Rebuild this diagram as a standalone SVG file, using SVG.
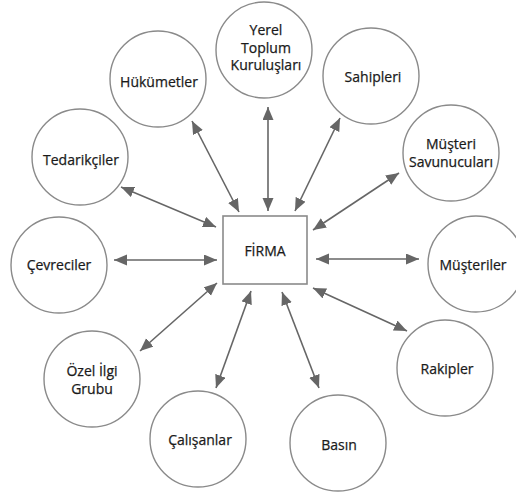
<svg xmlns="http://www.w3.org/2000/svg" width="516" height="494" viewBox="0 0 516 494">
<style>
.node circle{fill:#fff;stroke:#8a8a8a;stroke-width:1.4}
.node rect{fill:#fff;stroke:#8a8a8a;stroke-width:1.6}
text{font-family:"Open Sans","Noto Sans","DejaVu Sans",sans-serif;font-size:14px;fill:#1a1a1a;stroke:#1a1a1a;stroke-width:0.25;text-anchor:middle}
#connectors line{stroke:#666;stroke-width:1.6;marker-start:url(#ah);marker-end:url(#ah)}
</style>
<defs>
<marker id="ah" markerUnits="userSpaceOnUse" markerWidth="14" markerHeight="12" refX="13" refY="5.5" orient="auto-start-reverse">
<path d="M0,0 L13,5.5 L0,11 z" fill="#666"/>
</marker>
</defs>
<rect width="516" height="494" fill="#fff"/>
<g id="connectors">
<line x1="192" y1="121" x2="239" y2="212"/>
<line x1="268" y1="107" x2="268" y2="211"/>
<line x1="340" y1="118" x2="295" y2="211"/>
<line x1="399" y1="173" x2="313" y2="230"/>
<line x1="121" y1="187" x2="216" y2="227"/>
<line x1="114" y1="260" x2="217" y2="260"/>
<line x1="316" y1="259" x2="419" y2="259"/>
<line x1="140" y1="351" x2="217" y2="283"/>
<line x1="216" y1="388" x2="251" y2="291"/>
<line x1="282" y1="292" x2="319" y2="388"/>
<line x1="313" y1="288" x2="407" y2="331"/>
</g>
<g id="firma" class="node"><rect x="223" y="216" width="84" height="68"/><text x="265" y="256">FİRMA</text></g>
<g id="yerel" class="node"><circle cx="264" cy="50" r="48"/><text x="266" y="35">Yerel</text><text x="266" y="52.5">Toplum</text><text x="266" y="70">Kuruluşları</text></g>
<g id="hukumetler" class="node"><circle cx="158" cy="79" r="48"/><text x="159" y="87">Hükümetler</text></g>
<g id="sahipleri" class="node"><circle cx="371" cy="76" r="48"/><text x="373" y="82">Sahipleri</text></g>
<g id="tedarikciler" class="node"><circle cx="80" cy="157" r="48"/><text x="81" y="165">Tedarikçiler</text></g>
<g id="musteri-savunuculari" class="node"><circle cx="451" cy="153" r="48"/><text x="451" y="149">Müşteri</text><text x="451" y="167">Savunucuları</text></g>
<g id="cevreciler" class="node"><circle cx="59" cy="265" r="48"/><text x="59" y="270">Çevreciler</text></g>
<g id="musteriler" class="node"><circle cx="476" cy="264" r="48"/><text x="473" y="270">Müşteriler</text></g>
<g id="ozel-ilgi-grubu" class="node"><circle cx="92" cy="379" r="48"/><text x="92" y="376">Özel İlgi</text><text x="92" y="394">Grubu</text></g>
<g id="rakipler" class="node"><circle cx="445" cy="368" r="48"/><text x="447" y="374">Rakipler</text></g>
<g id="calisanlar" class="node"><circle cx="198" cy="439" r="48"/><text x="200" y="445">Çalışanlar</text></g>
<g id="basin" class="node"><circle cx="338" cy="443" r="48"/><text x="339" y="450">Basın</text></g>
</svg>
